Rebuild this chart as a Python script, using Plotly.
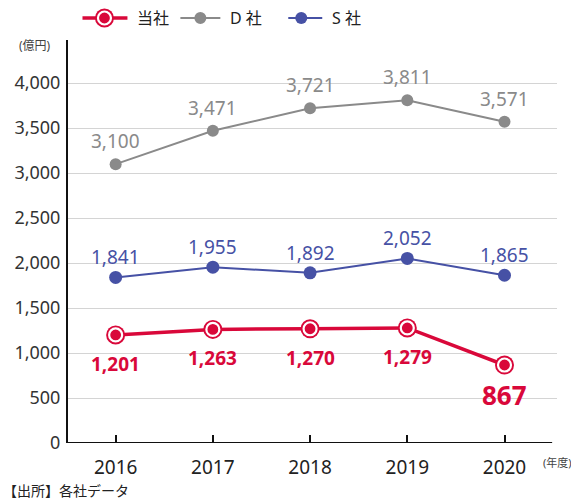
import plotly.graph_objects as go

years = ["2016", "2017", "2018", "2019", "2020"]
ours = [1201, 1263, 1270, 1279, 867]
d_sha = [3100, 3471, 3721, 3811, 3571]
s_sha = [1841, 1955, 1892, 2052, 1865]
y_ticks = [0, 500, 1000, 1500, 2000, 2500, 3000, 3500, 4000]

RED = "#d9083a"
GRAY = "#8a8a8a"
BLUE = "#4651a5"
FONT = "Noto Sans, Noto Sans CJK JP, sans-serif"

x_idx = list(range(len(years)))

fig = go.Figure()
fig.add_trace(go.Scatter(x=x_idx, y=d_sha, mode="lines+markers",
                         line=dict(color=GRAY, width=2), marker=dict(size=12, color=GRAY),
                         showlegend=False, hoverinfo="skip"))
fig.add_trace(go.Scatter(x=x_idx, y=s_sha, mode="lines+markers",
                         line=dict(color=BLUE, width=2), marker=dict(size=13, color=BLUE),
                         showlegend=False, hoverinfo="skip"))
fig.add_trace(go.Scatter(x=x_idx, y=ours, mode="lines+markers",
                         line=dict(color=RED, width=3.5), marker=dict(size=19, color=RED),
                         showlegend=False, hoverinfo="skip"))
fig.add_trace(go.Scatter(x=x_idx, y=ours, mode="markers",
                         marker=dict(size=13, color=RED, line=dict(color="white", width=2.2)),
                         showlegend=False, hoverinfo="skip"))

annotations = []
for i, v in enumerate(d_sha):
    annotations.append(dict(x=i, y=v, text=f"{v:,}", showarrow=False, yshift=23,
                            font=dict(family=FONT, size=19, color=GRAY)))
for i, v in enumerate(s_sha):
    annotations.append(dict(x=i, y=v, text=f"{v:,}", showarrow=False, yshift=20,
                            font=dict(family=FONT, size=19, color=BLUE)))
for i, v in enumerate(ours):
    last = i == len(ours) - 1
    annotations.append(dict(x=i, y=v, text=f"<b>{v:,}</b>", showarrow=False,
                            yshift=-30 if last else -29,
                            font=dict(family=FONT, size=26 if last else 19, color=RED)))

annotations += [
    dict(xref="paper", yref="paper", x=-0.105, y=1.0, xanchor="left", yanchor="middle",
         text="(億円)", showarrow=False, yshift=-5, font=dict(family=FONT, size=12, color="#444")),
    dict(xref="paper", yref="paper", x=1.035, y=0, xanchor="right", yanchor="middle",
         text="(年度)", showarrow=False, yshift=-19, font=dict(family=FONT, size=11, color="#444")),
    dict(xref="paper", yref="paper", x=-0.138, y=0, xanchor="left", yanchor="middle",
         text="【出所】各社データ", showarrow=False, yshift=-47, font=dict(family=FONT, size=14, color="#222")),
]

# legend (drawn manually)
W, H = 489.5, 403.0
def px(x):
    return (x - 67.5) / W
def py(y):
    return (499 - 56 - y) / H

def circle(cx, cy, d, fill, lw=0, lc="rgba(0,0,0,0)"):
    return dict(type="circle", xref="paper", yref="paper", xsizemode="pixel", ysizemode="pixel",
                xanchor=px(cx), yanchor=py(cy), x0=-d / 2, x1=d / 2, y0=-d / 2, y1=d / 2,
                fillcolor=fill, line=dict(color=lc, width=lw))

shapes = []
leg_y = 18
items = [("当社", RED, 82, 127, 135), ("D 社", GRAY, 180, 220, 228), ("S 社", BLUE, 288, 322, 330)]
for name, col, x0, x1, tx in items:
    shapes.append(dict(type="line", xref="paper", yref="paper",
                       x0=px(x0), x1=px(x1), y0=py(leg_y), y1=py(leg_y),
                       line=dict(color=col, width=3.5 if col == RED else 2)))
    annotations.append(dict(xref="paper", yref="paper", x=px(tx), y=py(leg_y),
                            xanchor="left", yanchor="middle",
                            text=name, showarrow=False, font=dict(family=FONT, size=16, color="#222")))
shapes.append(circle(104, leg_y, 19, RED))
shapes.append(circle(104, leg_y, 13, RED, 2.2, "white"))
shapes.append(circle(200, leg_y, 12, GRAY))
shapes.append(circle(301, leg_y, 12, BLUE))

# x axis line
shapes.append(dict(type="line", xref="x", yref="y", x0=-0.49, x1=4.49, y0=0, y1=0,
                   line=dict(color="#111", width=2)))

fig.update_layout(
    width=571, height=499,
    margin=dict(l=67.5, r=14, t=40, b=56),
    paper_bgcolor="white", plot_bgcolor="white",
    font=dict(family=FONT, color="#222"),
    xaxis=dict(range=[-0.49, 4.54], tickmode="array", tickvals=x_idx, ticktext=years,
               showgrid=False, zeroline=False, showline=False,
               ticks="inside", ticklen=8, tickwidth=2, tickcolor="#111",
               ticklabelstandoff=11,
               tickfont=dict(size=19, color="#222")),
    yaxis=dict(range=[0, 4480], tickmode="array", tickvals=y_ticks,
               ticktext=[f"{v:,}" for v in y_ticks],
               showgrid=True, gridcolor="#d4d4d4", gridwidth=1,
               zeroline=False, showline=True, linecolor="#111", linewidth=2,
               ticks="", ticklabelstandoff=2, tickfont=dict(size=18, color="#333")),
    annotations=annotations, shapes=shapes,
)

fig.write_html("out.html")
